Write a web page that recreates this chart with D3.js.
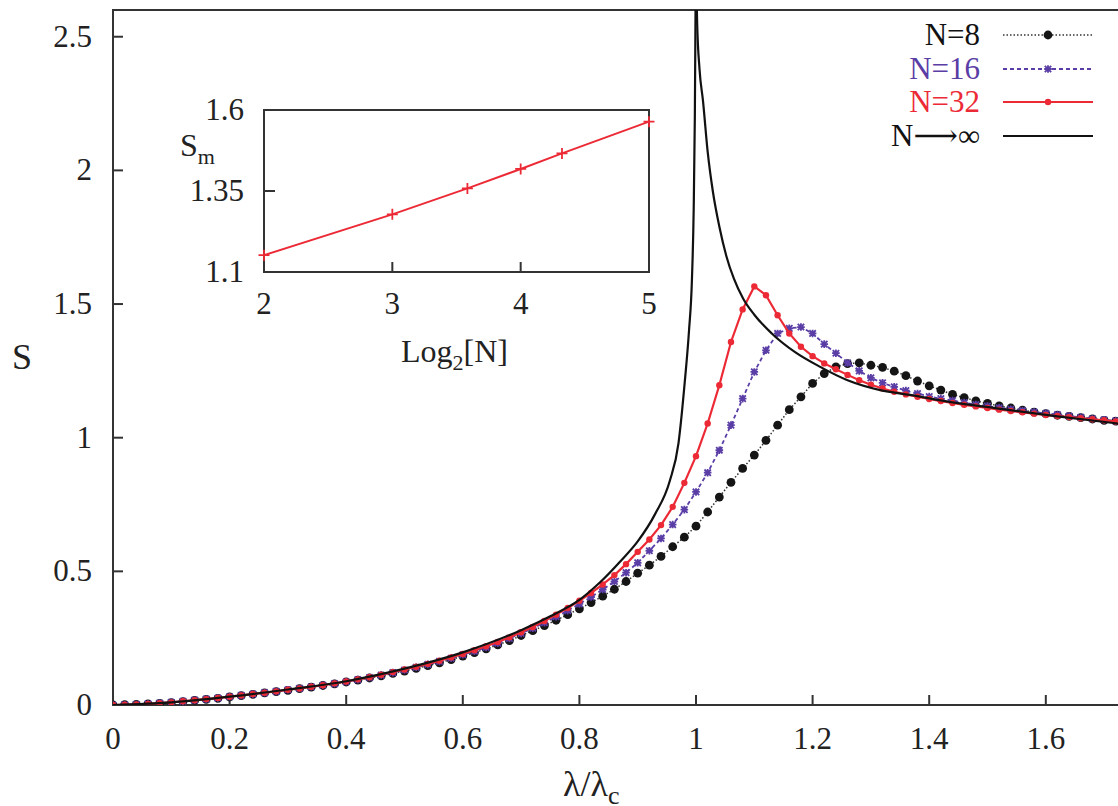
<!DOCTYPE html>
<html>
<head>
<meta charset="utf-8">
<script src="https://d3js.org/d3.v7.min.js"></script>
<style>
body { margin: 0; background: #fff; }
text { font-family: "Liberation Serif", "DejaVu Serif", serif; }
</style>
</head>
<body>
<script>
// lambda / lambda_c grid of the finite-N data
var lambdaGrid = [0,0.02,0.04,0.06,0.08,0.10,0.12,0.14,0.16,0.18,
	0.20,0.22,0.24,0.26,0.28,0.30,0.32,0.34,0.36,0.38,
	0.40,0.42,0.44,0.46,0.48,0.50,0.52,0.54,0.56,0.58,
	0.60,0.62,0.64,0.66,0.68,0.70,0.72,0.74,0.76,0.78,
	0.80,0.82,0.84,0.86,0.88,0.90,0.92,0.94,0.96,0.98,
	1.00,1.02,1.04,1.06,1.08,1.10,1.12,1.14,1.16,1.18,
	1.20,1.22,1.24,1.26,1.28,1.30,1.32,1.34,1.36,1.38,
	1.40,1.42,1.44,1.46,1.48,1.50,1.52,1.54,1.56,1.58,
	1.60,1.62,1.64,1.66,1.68,1.70,1.72];

var sN8 = [0.000,0.001,0.002,0.004,0.006,0.009,0.013,0.017,0.021,0.025,
	0.030,0.035,0.040,0.045,0.050,0.055,0.061,0.067,0.073,0.079,
	0.086,0.093,0.101,0.109,0.118,0.127,0.137,0.147,0.158,0.170,
	0.183,0.196,0.210,0.225,0.241,0.260,0.278,0.297,0.317,0.338,
	0.360,0.383,0.407,0.433,0.462,0.493,0.523,0.556,0.592,0.628,
	0.669,0.722,0.778,0.833,0.885,0.935,0.990,1.047,1.105,1.153,
	1.203,1.240,1.265,1.277,1.280,1.271,1.263,1.249,1.232,1.212,
	1.194,1.178,1.162,1.150,1.138,1.128,1.119,1.111,1.103,1.096,
	1.090,1.084,1.080,1.075,1.070,1.065,1.062];

var sN16 = [0.000,0.001,0.002,0.004,0.007,0.010,0.014,0.018,0.022,0.026,
	0.031,0.036,0.041,0.046,0.051,0.057,0.062,0.068,0.074,0.080,
	0.087,0.095,0.103,0.112,0.121,0.131,0.141,0.152,0.163,0.175,
	0.188,0.201,0.215,0.231,0.249,0.268,0.287,0.308,0.330,0.353,
	0.378,0.404,0.432,0.462,0.495,0.532,0.577,0.623,0.675,0.731,
	0.797,0.869,0.953,1.047,1.146,1.246,1.327,1.390,1.409,1.414,
	1.390,1.350,1.316,1.280,1.250,1.224,1.205,1.190,1.176,1.165,
	1.154,1.146,1.139,1.131,1.124,1.118,1.112,1.106,1.101,1.096,
	1.091,1.086,1.081,1.076,1.071,1.067,1.063];

var sN32 = [0.000,0.001,0.002,0.004,0.007,0.010,0.014,0.018,0.022,0.026,
	0.031,0.036,0.041,0.046,0.051,0.057,0.062,0.068,0.074,0.081,
	0.088,0.096,0.104,0.113,0.123,0.133,0.143,0.154,0.166,0.178,
	0.191,0.205,0.220,0.236,0.253,0.272,0.292,0.314,0.338,0.363,
	0.390,0.419,0.451,0.486,0.527,0.573,0.619,0.673,0.741,0.831,
	0.931,1.053,1.196,1.358,1.480,1.566,1.533,1.458,1.390,1.340,
	1.305,1.278,1.256,1.235,1.215,1.198,1.184,1.172,1.162,1.153,
	1.145,1.137,1.130,1.123,1.117,1.111,1.105,1.100,1.095,1.090,
	1.085,1.081,1.077,1.073,1.069,1.065,1.061];

// N -> infinity (two branches around lambda_c)
var infLeftX = [0,0.1,0.2,0.3,0.4,0.5,0.6,0.7,0.75,0.8,0.835,0.87,0.9,0.93,0.955,0.97,0.981,0.988,0.993,0.996,0.998,0.9995];
var infLeftS = [0,0.010,0.031,0.058,0.089,0.136,0.197,0.280,0.332,0.393,0.458,0.537,0.612,0.715,0.838,0.980,1.215,1.400,1.590,1.850,2.200,2.700];
var infRightX = [1.0005,1.002,1.006,1.012,1.02,1.029,1.04,1.052,1.065,1.081,1.1,1.13,1.17,1.213,1.26,1.316,1.367,1.44,1.516,1.62,1.724];
var infRightS = [2.700,2.550,2.380,2.260,2.070,1.920,1.790,1.680,1.595,1.520,1.460,1.390,1.320,1.265,1.215,1.178,1.160,1.132,1.110,1.080,1.053];

// inset: S_m versus log2(N)
var insetLogN = [2,3,3.585,4,4.322,5];
var insetSm = [1.152,1.278,1.358,1.418,1.466,1.564];

var xTicks = [0,0.2,0.4,0.6,0.8,1,1.2,1.4,1.6];
var yTicks = [0,0.5,1,1.5,2,2.5];
var insetXTicks = [2,3,4,5];
var insetYTicks = [1.1,1.35,1.6];

var width = 1118, height = 806;
var pLeft = 113, pTop = 10, pBottom = 705, pRight = 1118;
var blue = "#5a3ea6", red = "#ec2a36", ink = "#222";

var svg = d3.select("body").append("svg")
	.attr("width", width)
	.attr("height", height);

var x = d3.scaleLinear().domain([0, (pRight-pLeft)/583]).range([pLeft, pRight]);
var y = d3.scaleLinear().domain([0, 2.6]).range([pBottom, pTop]);

svg.append("clipPath").attr("id", "plotClip")
	.append("rect")
		.attr("x", pLeft).attr("y", pTop)
		.attr("width", pRight-pLeft).attr("height", pBottom-pTop);

// frame
svg.append("path")
	.attr("d", "M"+pRight+","+pTop+"H"+pLeft+"V"+pBottom+"H"+pRight)
	.attr("fill", "none")
	.attr("stroke", "#333")
	.attr("stroke-width", 2);

// ticks (inward)
svg.append("g").selectAll("line").data(xTicks).enter().append("line")
	.attr("x1", function(d) { return x(d); })
	.attr("x2", function(d) { return x(d); })
	.attr("y1", pBottom).attr("y2", pBottom-10)
	.attr("stroke", "#333").attr("stroke-width", 2);
svg.append("g").selectAll("line").data(yTicks).enter().append("line")
	.attr("x1", pLeft).attr("x2", pLeft+10)
	.attr("y1", function(d) { return y(d); })
	.attr("y2", function(d) { return y(d); })
	.attr("stroke", "#333").attr("stroke-width", 2);

svg.append("g").selectAll("text").data(xTicks).enter().append("text")
	.attr("x", function(d) { return x(d); })
	.attr("y", 749)
	.attr("text-anchor", "middle")
	.attr("font-size", 31)
	.attr("fill", ink)
	.text(function(d) { return d; });
svg.append("g").selectAll("text").data(yTicks).enter().append("text")
	.attr("x", 92)
	.attr("y", function(d) { return y(d)+10; })
	.attr("text-anchor", "end")
	.attr("font-size", 31)
	.attr("fill", ink)
	.text(function(d) { return d; });

svg.append("text")
	.attr("x", 22).attr("y", 369)
	.attr("text-anchor", "middle")
	.attr("font-size", 36)
	.attr("fill", ink)
	.text("S");

var xl = svg.append("text")
	.attr("x", 563).attr("y", 796)
	.attr("font-size", 36)
	.attr("fill", ink);
xl.append("tspan").text("λ/λ");
xl.append("tspan").attr("font-size", 26).attr("dy", 8).text("c");

// curves
var plot = svg.append("g").attr("clip-path", "url(#plotClip)");

function pts(xs, ys) {
	return xs.map(function(d, i) { return [d, ys[i]]; });
}
var line = d3.line()
	.x(function(d) { return x(d[0]); })
	.y(function(d) { return y(d[1]); });
var smooth = d3.line()
	.curve(d3.curveMonotoneX)
	.x(function(d) { return x(d[0]); })
	.y(function(d) { return y(d[1]); });

// N=8
plot.append("path")
	.attr("d", line(pts(lambdaGrid, sN8)))
	.attr("fill", "none").attr("stroke", "#333")
	.attr("stroke-width", 1.5).attr("stroke-dasharray", "1.5,2");
plot.append("g").selectAll("circle").data(pts(lambdaGrid, sN8)).enter().append("circle")
	.attr("cx", function(d) { return x(d[0]); })
	.attr("cy", function(d) { return y(d[1]); })
	.attr("r", 4.4)
	.attr("fill", "#151515");

// N=16
plot.append("path")
	.attr("d", line(pts(lambdaGrid, sN16)))
	.attr("fill", "none").attr("stroke", blue)
	.attr("stroke-width", 1.8).attr("stroke-dasharray", "4,3");
var star = "M-3.2,-3.2L3.2,3.2M-3.2,3.2L3.2,-3.2M0,-3.8V3.8M-3.8,0H3.8";
plot.append("g").selectAll("path").data(pts(lambdaGrid, sN16)).enter().append("path")
	.attr("transform", function(d) { return "translate("+x(d[0])+","+y(d[1])+")"; })
	.attr("d", star)
	.attr("stroke", blue).attr("stroke-width", 1.8);

// N=32
plot.append("path")
	.attr("d", line(pts(lambdaGrid, sN32)))
	.attr("fill", "none").attr("stroke", red)
	.attr("stroke-width", 2.2);
plot.append("g").selectAll("circle").data(pts(lambdaGrid, sN32)).enter().append("circle")
	.attr("cx", function(d) { return x(d[0]); })
	.attr("cy", function(d) { return y(d[1]); })
	.attr("r", 3.2)
	.attr("fill", red);

// N -> infinity
plot.append("path")
	.attr("d", smooth(pts(infLeftX, infLeftS)))
	.attr("fill", "none").attr("stroke", "#111").attr("stroke-width", 2.2);
plot.append("path")
	.attr("d", smooth(pts(infRightX, infRightS)))
	.attr("fill", "none").attr("stroke", "#111").attr("stroke-width", 2.2);

// legend
var legendRows = [
	{label: "N=8", color: "#111"},
	{label: "N=16", color: blue},
	{label: "N=32", color: red},
	{label: "N\u27F6\u221E", color: "#111"}
];
var legendY = [35, 69, 102, 136];
var lg = svg.append("g");
lg.selectAll("text").data(legendRows).enter().append("text")
	.attr("x", 980)
	.attr("y", function(d, i) { return legendY[i]+10; })
	.attr("text-anchor", "end")
	.attr("font-size", 31)
	.attr("fill", function(d) { return d.color; })
	.text(function(d) { return d.label; });
lg.append("line").attr("x1", 1003).attr("x2", 1093).attr("y1", legendY[0]).attr("y2", legendY[0])
	.attr("stroke", "#333").attr("stroke-width", 1.5).attr("stroke-dasharray", "1.5,2");
lg.append("circle").attr("cx", 1048).attr("cy", legendY[0]).attr("r", 4.4).attr("fill", "#151515");
lg.append("line").attr("x1", 1003).attr("x2", 1093).attr("y1", legendY[1]).attr("y2", legendY[1])
	.attr("stroke", blue).attr("stroke-width", 1.8).attr("stroke-dasharray", "4,3");
lg.append("path").attr("transform", "translate(1048,"+legendY[1]+")").attr("d", star)
	.attr("stroke", blue).attr("stroke-width", 1.8);
lg.append("line").attr("x1", 1003).attr("x2", 1093).attr("y1", legendY[2]).attr("y2", legendY[2])
	.attr("stroke", red).attr("stroke-width", 2.2);
lg.append("circle").attr("cx", 1048).attr("cy", legendY[2]).attr("r", 3.2).attr("fill", red);
lg.append("line").attr("x1", 1003).attr("x2", 1093).attr("y1", legendY[3]).attr("y2", legendY[3])
	.attr("stroke", "#111").attr("stroke-width", 2.2);

// inset
var ix = d3.scaleLinear().domain([2, 5]).range([264, 649]);
var iy = d3.scaleLinear().domain([1.1, 1.6]).range([272, 110]);
var inset = svg.append("g");
inset.append("rect")
	.attr("x", 264).attr("y", 110).attr("width", 385).attr("height", 162)
	.attr("fill", "#fff").attr("stroke", "#333").attr("stroke-width", 2);
inset.selectAll(".ixt").data(insetXTicks).enter().append("line")
	.attr("x1", function(d) { return ix(d); })
	.attr("x2", function(d) { return ix(d); })
	.attr("y1", 272).attr("y2", 262)
	.attr("stroke", "#333").attr("stroke-width", 2);
inset.selectAll(".iyt").data(insetYTicks).enter().append("line")
	.attr("x1", 264).attr("x2", 275)
	.attr("y1", function(d) { return iy(d); })
	.attr("y2", function(d) { return iy(d); })
	.attr("stroke", "#333").attr("stroke-width", 2);
inset.selectAll(".ixl").data(insetXTicks).enter().append("text")
	.attr("x", function(d) { return ix(d); })
	.attr("y", 314)
	.attr("text-anchor", "middle")
	.attr("font-size", 31)
	.attr("fill", ink)
	.text(function(d) { return d; });
inset.selectAll(".iyl").data(insetYTicks).enter().append("text")
	.attr("x", 244)
	.attr("y", function(d) { return iy(d)+10; })
	.attr("text-anchor", "end")
	.attr("font-size", 31)
	.attr("fill", ink)
	.text(function(d) { return d; });
inset.append("path")
	.attr("d", d3.line()
		.x(function(d) { return ix(d[0]); })
		.y(function(d) { return iy(d[1]); })(pts(insetLogN, insetSm)))
	.attr("fill", "none").attr("stroke", red).attr("stroke-width", 2);
inset.selectAll(".ip").data(pts(insetLogN, insetSm)).enter().append("path")
	.attr("transform", function(d) { return "translate("+ix(d[0])+","+iy(d[1])+")"; })
	.attr("d", "M-5.5,0H5.5M0,-5.5V5.5")
	.attr("stroke", red).attr("stroke-width", 1.8);

var sm = inset.append("text").attr("x", 180).attr("y", 156).attr("font-size", 32).attr("fill", ink);
sm.append("tspan").text("S");
sm.append("tspan").attr("font-size", 22).attr("dy", 8).text("m");

var lgn = inset.append("text").attr("x", 401).attr("y", 362).attr("font-size", 32).attr("fill", ink);
lgn.append("tspan").text("Log");
lgn.append("tspan").attr("font-size", 22).attr("dy", 8).text("2");
lgn.append("tspan").attr("dy", -8).text("[N]");
</script>
</body>
</html>
